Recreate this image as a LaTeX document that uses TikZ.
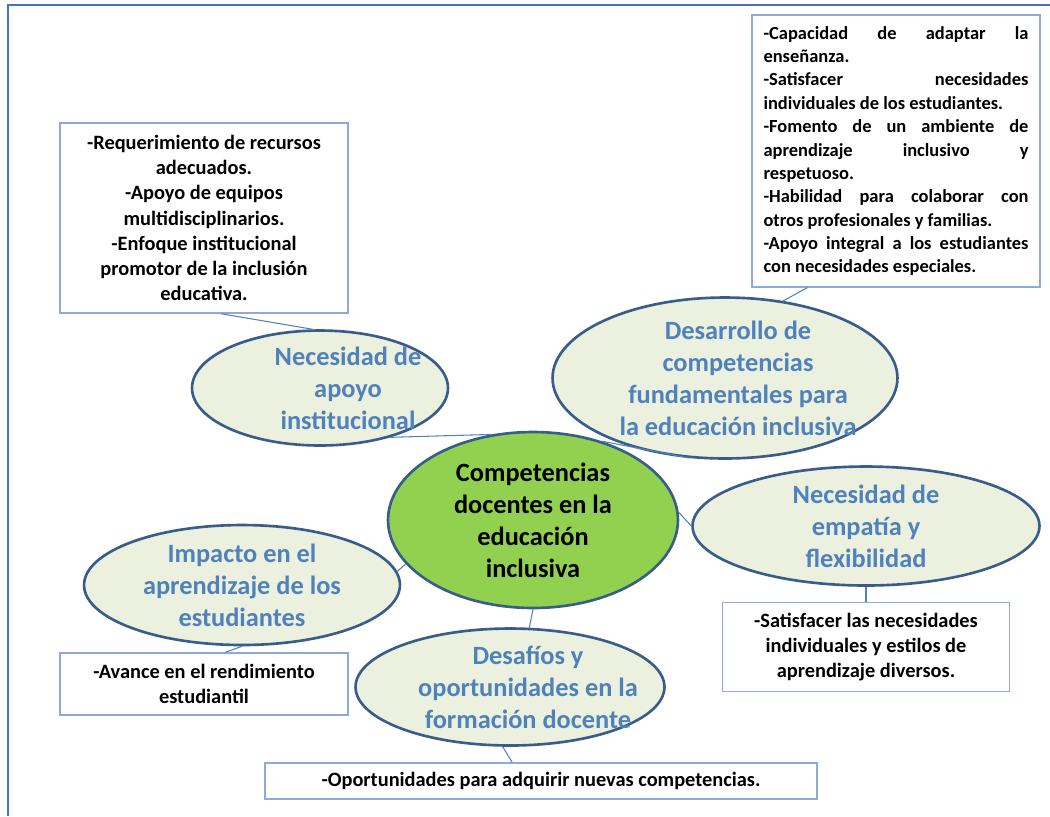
\documentclass[tikz,border=0pt]{standalone}
\usepackage{fontspec}
\setmainfont{Carlito}
\usepackage{xcolor}
\usetikzlibrary{shapes.geometric}
\usetikzlibrary{positioning}
\definecolor{topicline}{HTML}{385D8A}
\definecolor{topicfill}{HTML}{EBF1DE}
\definecolor{topictext}{HTML}{4F81BD}
\definecolor{mainfill}{HTML}{92D050}
\definecolor{noteline}{HTML}{8EAADB}
\definecolor{linkcolor}{HTML}{4F81BD}
\definecolor{frameline}{HTML}{4472C4}
\setlength{\parindent}{0pt}
\hyphenpenalty=10000
% lines of a topic, pushed right inside its ellipse
\newcommand{\shiftlines}[2]{\hspace*{#1}\raisebox{0pt}[\dimexpr\height+3.6pt\relax][\depth]{\begin{tabular}{@{}c@{}}#2\end{tabular}}}

\begin{document}
\begin{tikzpicture}[
		x=0.02cm, y=-0.02cm,
		topicshape/.style={ellipse, draw=topicline, line width=1.5pt, fill=topicfill, text=topictext, align=center, inner sep=-30pt, font=\fontsize{15}{18.2}\selectfont\bfseries},
		mainshape/.style={topicshape, fill=mainfill, text=black},
		notebox/.style={rectangle, draw=noteline, line width=0.8pt, fill=white, align=center, inner sep=0pt, font=\fontsize{11.6}{14.3}\selectfont\bfseries},
		link/.style={draw=linkcolor, line width=0.6pt},
	]
		\useasboundingbox (0,0) rectangle (1050,816);
		\draw[frameline, line width=1.1pt] (8,816) -- (8,5) -- (1050,5);

		\node (main) [mainshape, minimum width=5.8cm, minimum height=3.52cm] at (533,520) {Competencias\\docentes en la\\educación\\inclusiva};

		\begin{scope}
			\node (apoyo) [topicshape, minimum width=5.12cm, minimum height=2.3cm] at (320,388) {\shiftlines{1.12cm}{Necesidad de\\apoyo\\institucional}};
			\node (apoyo note) [notebox, minimum width=5.76cm, minimum height=3.8cm] at (204,218) {-Requerimiento de recursos\\adecuados.\\-Apoyo de equipos\\multidisciplinarios.\\-Enfoque institucional\\promotor de la inclusión\\educativa.};

			\draw[link] (apoyo note.-80) -- (apoyo.97);
			\draw[link] (apoyo.-35) -- (main.116);
		\end{scope}

		\begin{scope}
			\node (desarrollo) [topicshape, minimum width=6.9cm, minimum height=3.22cm] at (725,378) {\shiftlines{0.52cm}{Desarrollo de\\competencias\\fundamentales para\\la educación inclusiva}};
			\node (desarrollo note) [notebox, align=justify, text width=5.3cm, minimum width=5.76cm, minimum height=5.44cm, font=\fontsize{10.5}{13.3}\selectfont\bfseries] at (896,151) {-Capacidad de adaptar la\linebreak enseñanza.\par -Satisfacer necesidades\linebreak individuales de los estudiantes.\par -Fomento de un ambiente de\linebreak aprendizaje inclusivo y\linebreak respetuoso.\par -Habilidad para colaborar con\linebreak otros profesionales y familias.\par -Apoyo integral a los estudiantes\linebreak con necesidades especiales.};

			\draw[link] (main.49) -- (desarrollo.246);
			\draw[link] (desarrollo note.237) -- (desarrollo.53);
		\end{scope}

		\begin{scope}
			\node (empatia) [topicshape, minimum width=6.94cm, minimum height=2.38cm] at (866,526) {Necesidad de\\empatía y\\flexibilidad};
			\node (empatia note) [notebox, below=0.3cm of empatia, minimum width=5.74cm, minimum height=1.78cm] {-Satisfacer las necesidades\\individuales y estilos de\\aprendizaje diversos.};

			\draw[link] (main.3) -- (empatia.west);
			\draw[link] (empatia.south) -- (empatia.south|-empatia note.north);
		\end{scope}

		\begin{scope}
			\node (impacto) [topicshape, minimum width=6.32cm, minimum height=2.4cm] at (242,585) {Impacto en el\\aprendizaje de los\\estudiantes};
			\node (impacto note) [notebox, minimum width=5.76cm, minimum height=1.24cm] at (204,684) {-Avance en el rendimiento\\estudiantil};

			\draw[link] (main.199) -- (impacto.5);
			\draw[link] (impacto.south) -- (impacto note.56);
		\end{scope}

		\begin{scope}
			\node (desafios) [topicshape, minimum width=6.18cm, minimum height=2.34cm] at (510,687) {\shiftlines{0.72cm}{Desafíos y\\oportunidades en la\\formación docente}};
			\node (desafios note) [notebox, minimum width=11.04cm, minimum height=0.72cm] at (541,781) {-Oportunidades para adquirir nuevas competencias.};

			\draw[link] (main.south) -- (desafios.72);
			\draw[link] (desafios.263) -- (desafios note.147);
		\end{scope}
	\end{tikzpicture}
\end{document}
